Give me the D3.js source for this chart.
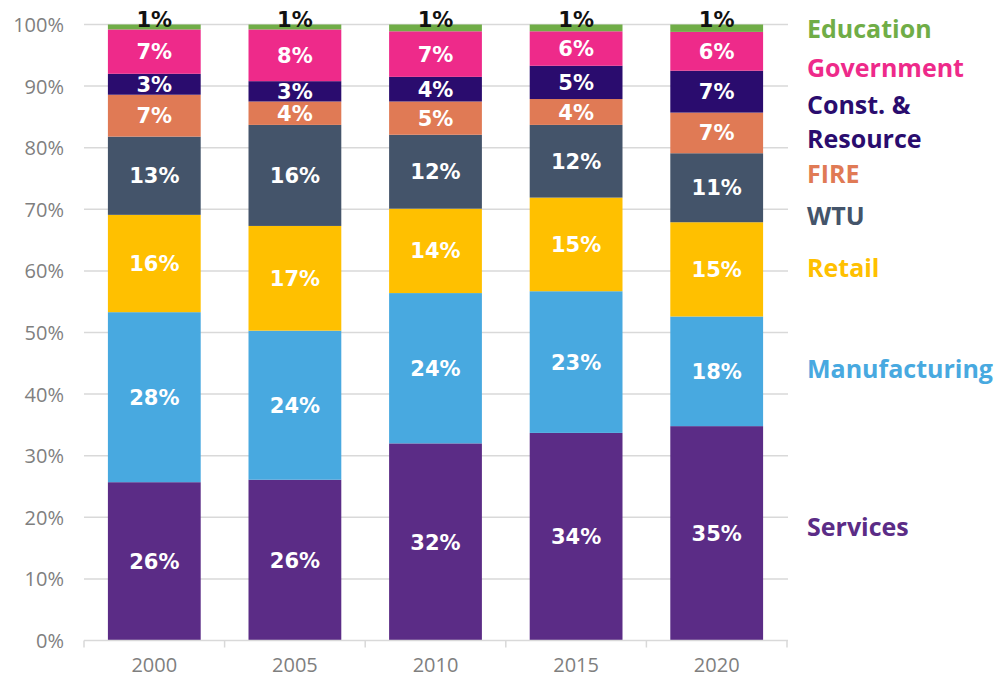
<!DOCTYPE html>
<html>
<head>
<meta charset="utf-8">
<script src="https://cdn.jsdelivr.net/npm/d3@7/dist/d3.min.js"></script>
<style>
  html, body { margin: 0; padding: 0; background: #ffffff; }
  svg { display: block; }
  .tick-label { font-family: "Open Sans", "DejaVu Sans", sans-serif; font-size: 20px; fill: #7f7f7f; }
  .seg-label { font-family: "DejaVu Sans", "Open Sans", sans-serif; font-weight: 700; font-size: 21px; }
  .legend { font-family: "Open Sans", "DejaVu Sans", sans-serif; font-weight: 700; font-size: 25px; }
</style>
</head>
<body>
<svg id="chart" width="997" height="681"></svg>
<script>
// Share of employment by sector, percent of total
const years = ["2000", "2005", "2010", "2015", "2020"];
const sectors = ["Services", "Manufacturing", "Retail", "WTU", "FIRE", "Const. & Resource", "Government", "Education"];

const services      = [25.7, 26.1, 32.0, 33.7, 34.8];
const manufacturing = [27.6, 24.2, 24.4, 23.0, 17.8];
const retail        = [15.8, 17.0, 13.7, 15.2, 15.3];
const wtu           = [12.7, 16.4, 12.0, 11.8, 11.2];
const fire          = [6.8, 3.8, 5.4, 4.2, 6.6];
const construction  = [3.4, 3.3, 4.0, 5.4, 6.8];
const government    = [7.2, 8.4, 7.4, 5.6, 6.3];
const education     = [0.8, 0.8, 1.1, 1.1, 1.2];

const yTicks = [0, 10, 20, 30, 40, 50, 60, 70, 80, 90, 100];
const sectorColors = ["#5b2c86", "#48a9e0", "#ffc000", "#44546a", "#e07a55", "#2a0c6e", "#ee2a8a", "#70ad47"];

const seriesValues = [services, manufacturing, retail, wtu, fire, construction, government, education];

// tabular rows for d3.stack
const rows = years.map((yr, i) => {
  const r = { year: yr };
  sectors.forEach((s, k) => { r[s] = seriesValues[k][i]; });
  return r;
});

const svg = d3.select("#chart");
const x = d3.scaleBand().domain(years).range([84, 787]).paddingInner(0.34).paddingOuter(0.17);
const y = d3.scaleLinear().domain([0, 100]).range([640.5, 24.5]);
const color = d3.scaleOrdinal().domain(sectors).range(sectorColors);
const pct = d3.format(".0f");

// horizontal gridlines
svg.append("g").selectAll("line")
  .data(yTicks.filter(t => t > 0))
  .join("line")
  .attr("x1", 84).attr("x2", 788)
  .attr("y1", d => y(d)).attr("y2", d => y(d))
  .attr("stroke", "#d9d9d9").attr("stroke-width", 1.5);

// y axis labels
const yAxis = d3.axisLeft(y).tickValues(yTicks).tickSize(0).tickPadding(20).tickFormat(d => d + "%");
const gy = svg.append("g").attr("transform", "translate(84,0)").call(yAxis);
gy.select(".domain").remove();
gy.selectAll("text").attr("class", "tick-label").attr("dy", "0.35em");

// stacked bars
const stack = d3.stack().keys(sectors);
const layers = stack(rows);

const layerG = svg.append("g").selectAll("g")
  .data(layers)
  .join("g")
  .attr("fill", d => color(d.key));

layerG.selectAll("rect")
  .data(d => d)
  .join("rect")
  .attr("x", d => x(d.data.year))
  .attr("width", x.bandwidth())
  .attr("y", d => y(d[1]))
  .attr("height", d => y(d[0]) - y(d[1]));

// segment labels
layers.forEach(layer => {
  const isTop = layer.key === "Education";
  svg.append("g").selectAll("text")
    .data(layer)
    .join("text")
    .attr("class", "seg-label")
    .attr("text-anchor", "middle")
    .attr("x", d => x(d.data.year) + x.bandwidth() / 2)
    .attr("y", d => isTop ? y(d[1]) + 2 : (y(d[0]) + y(d[1])) / 2)
    .attr("dy", isTop ? "0" : "0.36em")
    .attr("fill", isTop ? "#111111" : "#ffffff")
    .text(d => pct(d.data[layer.key]) + "%");
});

// bottom axis: baseline, boundary ticks, year labels
const axisG = svg.append("g");
axisG.append("line")
  .attr("x1", 84).attr("x2", 788)
  .attr("y1", y(0)).attr("y2", y(0))
  .attr("stroke", "#d9d9d9").attr("stroke-width", 1.5);
const gap = (x.step() - x.bandwidth()) / 2;
const bounds = years.map(yr => x(yr) - gap).concat([x(years[years.length - 1]) + x.bandwidth() + gap]);
axisG.selectAll("line.bt")
  .data(bounds)
  .join("line")
  .attr("class", "bt")
  .attr("x1", d => d).attr("x2", d => d)
  .attr("y1", y(0)).attr("y2", y(0) + 7)
  .attr("stroke", "#d9d9d9").attr("stroke-width", 1.5);
const xAxis = d3.axisBottom(x).tickSize(0).tickPadding(17);
const gx = svg.append("g").attr("transform", `translate(0,${y(0)})`).call(xAxis);
gx.select(".domain").remove();
gx.selectAll("text").attr("class", "tick-label");

// legend, right of the plot
const legendItems = [
  { key: "Education", lines: ["Education"], y: 29 },
  { key: "Government", lines: ["Government"], y: 68 },
  { key: "Const. & Resource", lines: ["Const. &", "Resource"], y: 105 },
  { key: "FIRE", lines: ["FIRE"], y: 174 },
  { key: "WTU", lines: ["WTU"], y: 216 },
  { key: "Retail", lines: ["Retail"], y: 268 },
  { key: "Manufacturing", lines: ["Manufacturing"], y: 369 },
  { key: "Services", lines: ["Services"], y: 527 }
];
const lg = svg.append("g");
legendItems.forEach(item => {
  const t = lg.append("text")
    .attr("class", "legend")
    .attr("x", 807)
    .attr("y", item.y)
    .attr("fill", color(item.key));
  item.lines.forEach((ln, i) => {
    t.append("tspan").attr("x", 807).attr("dy", i === 0 ? "0.35em" : "34px").text(ln);
  });
});
</script>
</body>
</html>
